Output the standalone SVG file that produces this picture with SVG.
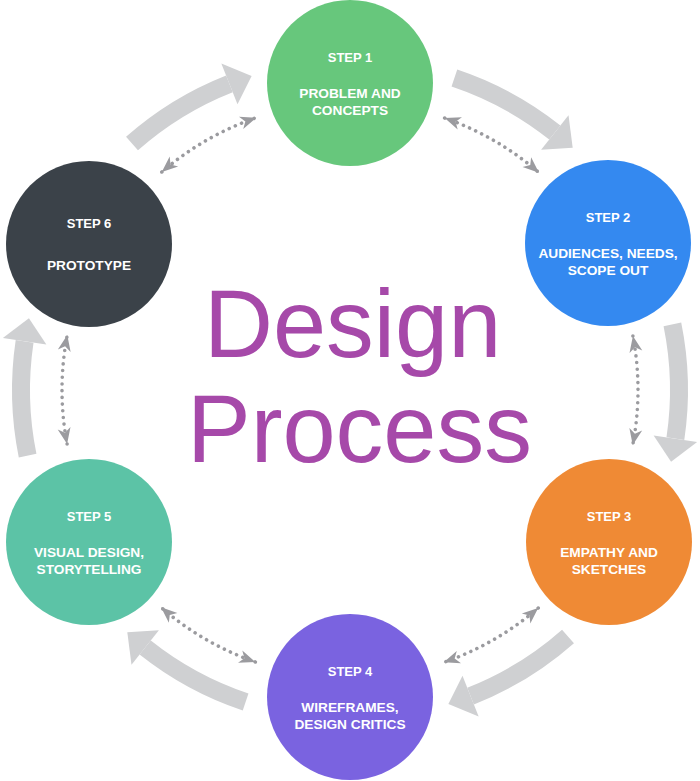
<svg xmlns="http://www.w3.org/2000/svg" xmlns:xlink="http://www.w3.org/1999/xlink" width="700" height="781" viewBox="0 0 700 781">
  <style>
    .big { fill: none; stroke: #cfd0d2; stroke-width: 18; stroke-linecap: butt; }
    .bighead { fill: #cfd0d2; }
    .dots { fill: none; stroke: #9b9b9f; stroke-width: 3.6; stroke-linecap: round; stroke-dasharray: 0 6.7; marker-start: url(#chev); marker-end: url(#chev); }
    .step { font-family: "Liberation Sans", Arial, sans-serif; font-weight: bold; font-size: 13px; fill: #ffffff; text-anchor: middle; }
    .lbl { font-family: "Liberation Sans", Arial, sans-serif; font-weight: bold; font-size: 13.7px; fill: #ffffff; text-anchor: middle; }
    .title { font-family: "Liberation Sans", Arial, sans-serif; font-size: 95.5px; fill: #a649a9; }
  </style>
  <defs>
    <marker id="chev" markerUnits="userSpaceOnUse" orient="auto-start-reverse" refX="0" refY="0" markerWidth="20" markerHeight="20" viewBox="-18 -10 20 20" overflow="visible">
      <path d="M0,0 L-16,-6.5 L-11.5,0 L-16,6.5 Z" fill="#9b9b9f"/>
    </marker>
    <g id="bigArrow">
      <path class="big" d="M672.39 324.41 A329 329 0 0 1 675.39 438.63"/>
      <path class="bighead" d="M653.63 435.38 L697.15 441.88 L671.08 461.77 Z"/>
    </g>
    <path id="dotArrow" class="dots" d="M632.90 336.03 A288 288 0 0 1 632.71 444.95"/>
  </defs>

  <g id="connectors">
    <use xlink:href="#bigArrow" transform="rotate(-120 350 390)"/>
    <use xlink:href="#bigArrow" transform="rotate(-60 350 390)"/>
    <use xlink:href="#bigArrow"/>
    <use xlink:href="#bigArrow" transform="rotate(60 350 390)"/>
    <use xlink:href="#bigArrow" transform="rotate(120 350 390)"/>
    <use xlink:href="#bigArrow" transform="rotate(180 350 390)"/>
    <use xlink:href="#dotArrow" transform="rotate(-120 350 390)"/>
    <use xlink:href="#dotArrow" transform="rotate(-60 350 390)"/>
    <use xlink:href="#dotArrow"/>
    <use xlink:href="#dotArrow" transform="rotate(60 350 390)"/>
    <use xlink:href="#dotArrow" transform="rotate(120 350 390)"/>
    <use xlink:href="#dotArrow" transform="rotate(180 350 390)"/>
  </g>

  <g id="title">
    <text class="title" x="204" y="357">Design</text>
    <text class="title" x="187" y="462">Process</text>
  </g>

  <g id="step1">
    <circle cx="350" cy="83" r="83" fill="#67c77c"/>
    <text class="step" x="350" y="62">STEP 1</text>
    <text class="lbl" x="350" y="98">PROBLEM AND</text>
    <text class="lbl" x="350" y="115">CONCEPTS</text>
  </g>
  <g id="step2">
    <circle cx="608" cy="243" r="83" fill="#3489f0"/>
    <text class="step" x="608" y="222">STEP 2</text>
    <text class="lbl" x="608" y="258">AUDIENCES, NEEDS,</text>
    <text class="lbl" x="608" y="275">SCOPE OUT</text>
  </g>
  <g id="step3">
    <circle cx="609" cy="542" r="83" fill="#ef8a35"/>
    <text class="step" x="609" y="521">STEP 3</text>
    <text class="lbl" x="609" y="557">EMPATHY AND</text>
    <text class="lbl" x="609" y="574">SKETCHES</text>
  </g>
  <g id="step4">
    <circle cx="350" cy="697" r="83" fill="#7a63e0"/>
    <text class="step" x="350" y="676">STEP 4</text>
    <text class="lbl" x="350" y="712">WIREFRAMES,</text>
    <text class="lbl" x="350" y="729">DESIGN CRITICS</text>
  </g>
  <g id="step5">
    <circle cx="89" cy="542" r="83" fill="#5cc3a6"/>
    <text class="step" x="89" y="521">STEP 5</text>
    <text class="lbl" x="89" y="557">VISUAL DESIGN,</text>
    <text class="lbl" x="89" y="574">STORYTELLING</text>
  </g>
  <g id="step6">
    <circle cx="89" cy="244" r="83" fill="#3b4249"/>
    <text class="step" x="89" y="228">STEP 6</text>
    <text class="lbl" x="89" y="270">PROTOTYPE</text>
  </g>
</svg>
